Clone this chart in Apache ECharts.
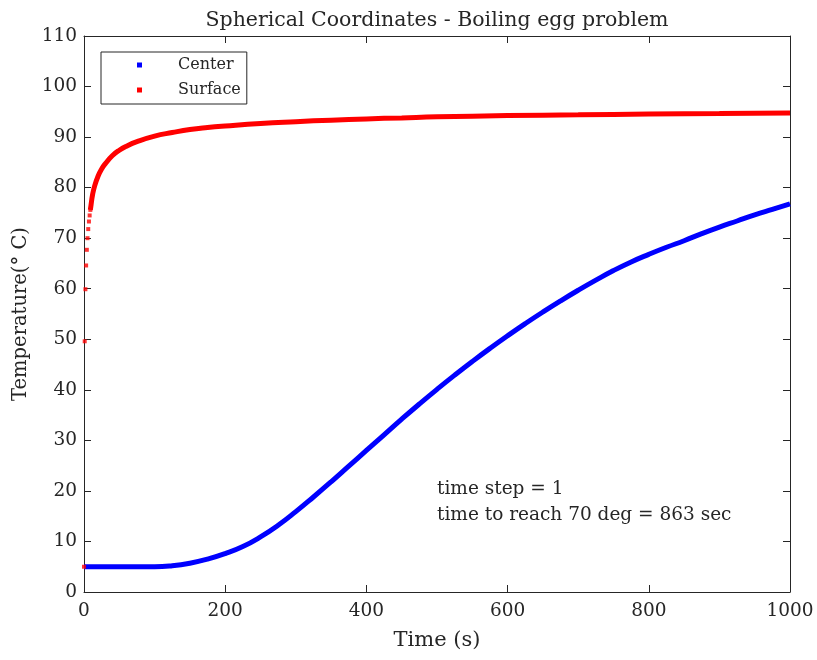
<!DOCTYPE html>
<html>
<head>
<meta charset="utf-8">
<script src="https://cdn.jsdelivr.net/npm/echarts@6/dist/echarts.min.js"></script>
<style>
html,body{margin:0;padding:0;background:#fff;}
#chart{width:817px;height:660px;}
</style>
</head>
<body>
<div id="chart"></div>
<script>
// ---- data ----
const xTicks = [0, 200, 400, 600, 800, 1000];
const yTicks = [0, 10, 20, 30, 40, 50, 60, 70, 80, 90, 100, 110];

const centerTime = [0,25,50,75,100,125,150,175,200,225,250,275,300,325,350,375,400,425,450,475,500,525,550,575,600,625,650,675,700,725,750,775,800,825,850,875,900,925,950,975,1000];
const centerTemp = [5.0,5.0,5.0,5.0,5.0,5.2,5.7,6.5,7.6,9.0,10.9,13.2,15.9,18.8,21.8,24.9,28.0,31.1,34.2,37.2,40.1,42.9,45.6,48.2,50.7,53.1,55.4,57.6,59.7,61.7,63.6,65.3,66.8,68.2,69.5,70.9,72.2,73.4,74.6,75.7,76.8];

const surfaceEarlyTime = [0,1,2,3,4,5,6,7,8,9];
const surfaceEarlyTemp = [5.0,49.6,59.9,64.6,67.7,70.0,71.8,73.3,74.5,75.6];

const surfaceTime = [9,10,12,15,20,25,30,40,50,60,75,100,125,150,175,200,250,300,350,400,450,500,600,700,800,900,1000];
const surfaceTemp = [75.6,76.6,78.5,80.3,82.3,83.7,84.7,86.3,87.4,88.2,89.1,90.2,90.9,91.5,91.9,92.2,92.7,93.05,93.35,93.6,93.8,94.0,94.25,94.4,94.55,94.65,94.75];

const titleText = 'Spherical Coordinates - Boiling egg problem';
const xName = 'Time (s)';
const yName = 'Temperature(\u00B0 C)';
const noteLines = ['time step = 1', 'time to reach 70 deg = 863 sec'];

// ---- build ----
const pairs = (xs, ys) => xs.map((x, i) => [x, ys[i]]);
const FONT = '"DejaVu Serif", "Liberation Serif", serif';
const INK = '#262626';

const chart = echarts.init(document.getElementById('chart'), null, {renderer: 'canvas'});

const axisCommon = () => ({
  axisLine: {show: true, onZero: false, lineStyle: {color: INK, width: 1}},
  axisTick: {show: true, inside: true, length: 7, lineStyle: {color: INK}},
  splitLine: {show: false}
});

chart.setOption({
  animation: false,
  backgroundColor: '#fff',
  title: {
    text: titleText,
    left: 432,
    top: 5,
    textAlign: 'center',
    textStyle: {fontFamily: FONT, fontSize: 20.5, fontWeight: 'normal', color: INK}
  },
  grid: {left: 84, right: 27, top: 36, bottom: 68, containLabel: false},
  legend: {
    data: ['Center', 'Surface'],
    orient: 'vertical',
    left: 101,
    top: 52,
    icon: 'rect',
    itemWidth: 5,
    itemHeight: 5,
    itemGap: 7,
    padding: [4, 6, 5, 36],
    backgroundColor: '#fff',
    borderColor: INK,
    borderWidth: 1,
    borderRadius: 0,
    textStyle: {fontFamily: FONT, fontSize: 16, color: INK, padding: [0, 0, 0, 31], lineHeight: 18}
  },
  xAxis: [
    Object.assign({
      type: 'value', min: 0, max: 1000, interval: 200, position: 'bottom',
      name: xName, nameLocation: 'middle', nameGap: 38,
      nameTextStyle: {fontFamily: FONT, fontSize: 21, color: INK},
      axisLabel: {fontFamily: FONT, fontSize: 18.5, color: INK, margin: 10,
        formatter: v => xTicks.includes(v) ? String(v) : ''}
    }, axisCommon()),
    Object.assign({
      type: 'value', min: 0, max: 1000, interval: 200, position: 'top',
      axisLabel: {show: false}
    }, axisCommon())
  ],
  yAxis: [
    Object.assign({
      type: 'value', min: 0, max: 110, interval: 10, position: 'left',
      name: yName, nameLocation: 'middle', nameGap: 38, nameRotate: 90,
      nameTextStyle: {fontFamily: FONT, fontSize: 19.5, color: INK},
      axisLabel: {fontFamily: FONT, fontSize: 18.5, color: INK, margin: 7,
        formatter: v => yTicks.includes(v) ? String(v) : ''}
    }, axisCommon()),
    Object.assign({
      type: 'value', min: 0, max: 110, interval: 10, position: 'right',
      axisLabel: {show: false}
    }, axisCommon())
  ],
  series: [
    {
      name: 'Center', type: 'line', xAxisIndex: 0, yAxisIndex: 0,
      data: pairs(centerTime, centerTemp),
      smooth: 0.5, showSymbol: false, symbol: 'rect',
      lineStyle: {color: '#0000ff', width: 5},
      itemStyle: {color: '#0000ff'}, z: 2
    },
    {
      name: 'Surface', type: 'line', xAxisIndex: 0, yAxisIndex: 0,
      data: pairs(surfaceTime, surfaceTemp),
      smooth: 0.5, showSymbol: false, symbol: 'rect',
      lineStyle: {color: '#ff0000', width: 5},
      itemStyle: {color: '#ff0000'}, z: 3
    },
    {
      name: 'Surface', type: 'scatter', xAxisIndex: 0, yAxisIndex: 0,
      data: pairs(surfaceEarlyTime, surfaceEarlyTemp),
      symbol: 'rect', symbolSize: 4,
      itemStyle: {color: '#ff0000'}, z: 4
    }
  ],
  graphic: [
    {type: 'text', left: 437, top: 480, style: {text: noteLines[0], font: '18.5px ' + FONT, fill: INK}},
    {type: 'text', left: 437, top: 506, style: {text: noteLines[1], font: '18.5px ' + FONT, fill: INK}}
  ]
});
</script>
</body>
</html>
